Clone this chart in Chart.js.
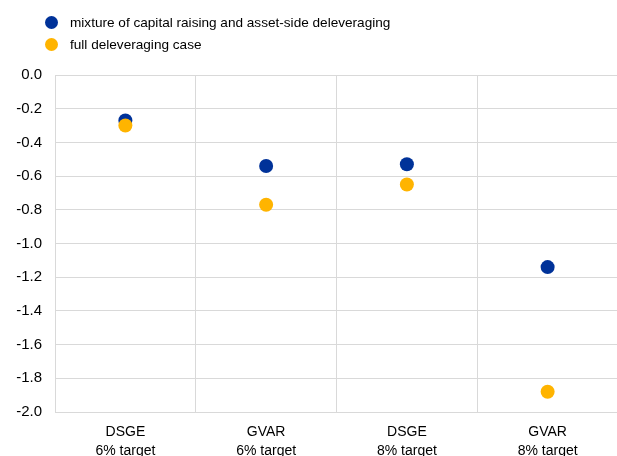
<!DOCTYPE html>
<html>
<head>
<meta charset="utf-8">
<script src="https://cdn.jsdelivr.net/npm/chart.js@4"></script>
<style>
  body { margin: 0; width: 617px; height: 456px; overflow: hidden; background: #fff; font-family: "Liberation Sans", Arial, sans-serif; }
  #wrap { position: absolute; left: 0; top: 0; width: 625px; height: 456px; }
  #legend { position: absolute; left: 45px; top: 12px; font-size: 13.6px; color: #000; }
  .item { height: 22px; line-height: 22px; white-space: nowrap; }
  .dot { display: inline-block; width: 13px; height: 13px; border-radius: 50%; vertical-align: -2px; margin-right: 12px; }
</style>
</head>
<body>
<div id="wrap"><canvas id="chart" width="625" height="456"></canvas></div>
<div id="legend"></div>
<script>
const categories = [["DSGE", "6% target"], ["GVAR", "6% target"], ["DSGE", "8% target"], ["GVAR", "8% target"]]
const mixtureValues = [-0.27, -0.54, -0.53, -1.14]
const fullDeleveragingValues = [-0.30, -0.77, -0.65, -1.88]
const seriesNames = ["mixture of capital raising and asset-side deleveraging", "full deleveraging case"]
const seriesColors = ["#003299", "#FFB400"]

// legend drawn as html, one item per line
const legend = document.getElementById('legend')
seriesNames.forEach(function (name, i) {
    const row = document.createElement('div')
    row.className = 'item'
    row.innerHTML = '<span class="dot" style="background:' + seriesColors[i] + '"></span>' + name
    legend.appendChild(row)
})

Chart.defaults.font.family = '"Liberation Sans", Arial, sans-serif'
Chart.defaults.font.size = 14
Chart.defaults.color = '#000'

new Chart(document.getElementById('chart'), {
    type: 'line',
    data: {
        labels: categories,
        datasets: [{
            label: seriesNames[0],
            data: mixtureValues,
            showLine: false,
            pointRadius: 7,
            pointBackgroundColor: seriesColors[0],
            pointBorderWidth: 0,
            order: 2
        }, {
            label: seriesNames[1],
            data: fullDeleveragingValues,
            showLine: false,
            pointRadius: 7,
            pointBackgroundColor: seriesColors[1],
            pointBorderWidth: 0,
            order: 1
        }]
    },
    options: {
        responsive: false,
        animation: false,
        events: [],
        layout: { padding: { top: 75, right: 4, left: 0, bottom: 0 } },
        plugins: { legend: { display: false }, tooltip: { enabled: false } },
        scales: {
            x: {
                offset: true,
                grid: { offset: true, color: '#d9d9d9', drawTicks: false },
                border: { color: '#d9d9d9' },
                ticks: { padding: 10, maxRotation: 0, font: { size: 14, lineHeight: 1.4 } },
                afterFit: function (scale) { scale.height = 44 }
            },
            y: {
                min: -2,
                max: 0,
                ticks: {
                    stepSize: 0.2,
                    padding: 13,
                    font: { size: 15 },
                    callback: function (value) { return value.toFixed(1) }
                },
                grid: { color: '#d9d9d9', drawTicks: false },
                border: { color: '#d9d9d9' },
                afterFit: function (scale) { scale.width = 55 }
            }
        }
    }
})
</script>
</body>
</html>
